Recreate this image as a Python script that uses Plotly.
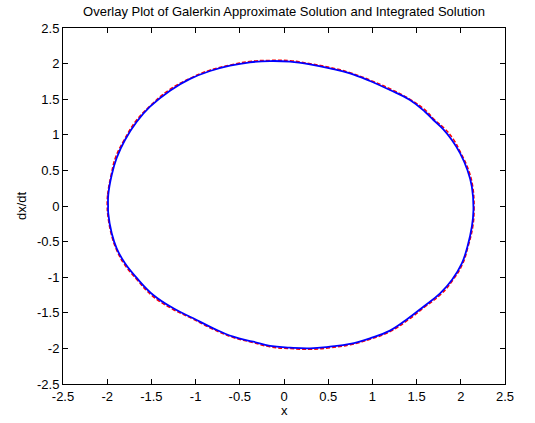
import plotly.graph_objects as go

# Integrated solution (blue, solid)
int_x = [-1.99, -1.988, -1.949, -1.893, -1.799, -1.666, -1.516, -1.290, -1.063, -0.837,
         -0.611, -0.385, -0.158, 0.068, 0.294, 0.520, 0.747, 0.973, 1.199, 1.425,
         1.595, 1.690, 1.800, 1.899, 1.993, 2.075, 2.125, 2.143, 2.125, 2.075,
         2.012, 1.899, 1.766, 1.577, 1.407, 1.199, 0.973, 0.747, 0.520, 0.294,
         0.068, -0.158, -0.348, -0.574, -0.800, -1.026, -1.252, -1.479, -1.666, -1.799,
         -1.893, -1.949, -1.988, -1.99]
int_y = [0.00, 0.154, 0.435, 0.674, 0.927, 1.184, 1.395, 1.620, 1.785, 1.896,
         1.971, 2.018, 2.036, 2.027, 1.990, 1.934, 1.864, 1.756, 1.629, 1.489,
         1.324, 1.208, 1.080, 0.927, 0.740, 0.506, 0.271, -0.056, -0.291, -0.572,
         -0.805, -1.039, -1.226, -1.414, -1.577, -1.750, -1.858, -1.938, -1.976, -1.999,
         -1.990, -1.966, -1.906, -1.836, -1.718, -1.577, -1.437, -1.250, -1.010, -0.805,
         -0.594, -0.383, -0.103, 0.00]

# Galerkin approximate solution (red, dashed)
gal_x = [-2.00, -1.995, -1.955, -1.905, -1.805, -1.675, -1.520, -1.300, -1.065, -0.845,
         -0.615, -0.390, -0.160, 0.070, 0.300, 0.525, 0.755, 0.980, 1.210, 1.430,
         1.610, 1.700, 1.815, 1.915, 2.000, 2.085, 2.135, 2.150, 2.135, 2.080,
         2.020, 1.905, 1.775, 1.585, 1.415, 1.205, 0.980, 0.750, 0.525, 0.300,
         0.070, -0.160, -0.352, -0.580, -0.808, -1.035, -1.262, -1.490, -1.675, -1.808,
         -1.900, -1.955, -1.995, -2.00]
gal_y = [0.00, 0.160, 0.440, 0.685, 0.935, 1.195, 1.400, 1.630, 1.792, 1.905,
         1.978, 2.030, 2.045, 2.040, 1.998, 1.945, 1.870, 1.765, 1.640, 1.495,
         1.335, 1.215, 1.090, 0.940, 0.745, 0.515, 0.275, -0.055, -0.295, -0.580,
         -0.815, -1.050, -1.240, -1.425, -1.590, -1.760, -1.870, -1.948, -1.990, -2.012,
         -2.003, -1.978, -1.918, -1.845, -1.728, -1.585, -1.447, -1.262, -1.018, -0.815,
         -0.600, -0.390, -0.110, 0.00]

tick_vals = [-2.5, -2, -1.5, -1, -0.5, 0, 0.5, 1, 1.5, 2, 2.5]
tick_text = ["-2.5", "-2", "-1.5", "-1", "-0.5", "0", "0.5", "1", "1.5", "2", "2.5"]

FONT = "Liberation Sans, Arial"

fig = go.Figure()
fig.add_trace(go.Scatter(x=gal_x, y=gal_y, mode="lines",
                         line=dict(color="#ff0000", width=1.5, dash="4px,2px",
                                   shape="spline", smoothing=1.2),
                         showlegend=False))
fig.add_trace(go.Scatter(x=int_x, y=int_y, mode="lines",
                         line=dict(color="#0000ff", width=1.8, shape="spline", smoothing=1.2),
                         showlegend=False))

axis_common = dict(
    showgrid=False, zeroline=False, showline=True, linecolor="black", linewidth=1,
    mirror="allticks", ticks="inside", ticklen=5, tickcolor="black",
    tickvals=tick_vals, ticktext=tick_text, automargin=False,
    tickfont=dict(family=FONT, size=13, color="black"),
)

fig.update_layout(
    width=535, height=423,
    margin=dict(l=63, r=30, t=28, b=39, autoexpand=False),
    paper_bgcolor="white", plot_bgcolor="white",
    font=dict(family=FONT, size=13, color="black"),
    title=dict(text="Overlay Plot of Galerkin Approximate Solution and Integrated Solution",
               x=(63 + 505) / 2 / 535, xanchor="center",
               y=1 - 11 / 423, yanchor="middle", yref="container",
               font=dict(family=FONT, size=13, color="black")),
    xaxis=dict(range=[-2.5, 2.5], **axis_common),
    yaxis=dict(range=[-2.5, 2.5], **axis_common),
    annotations=[
        dict(text="x", xref="paper", yref="paper", x=0.5, y=-27 / 356,
             xanchor="center", yanchor="middle", showarrow=False,
             font=dict(family=FONT, size=13, color="black")),
        dict(text="dx/dt", xref="paper", yref="paper", x=-42 / 442, y=0.5,
             xanchor="center", yanchor="middle", showarrow=False, textangle=-90,
             font=dict(family=FONT, size=13, color="black")),
    ],
)

fig.write_html("out.html")
